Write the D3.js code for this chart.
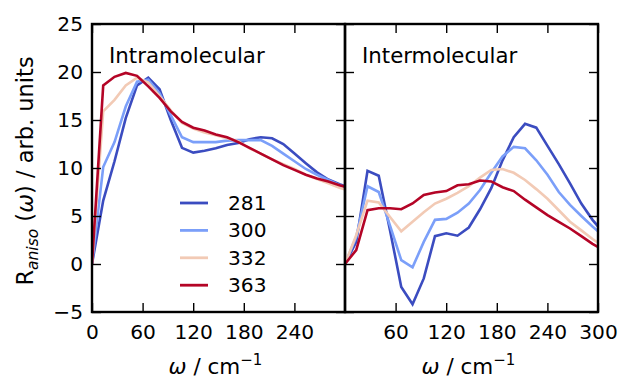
<!DOCTYPE html>
<html>
<head>
<meta charset="utf-8">
<script src="https://cdn.jsdelivr.net/npm/d3@7/dist/d3.min.js"></script>
<style>
html, body { margin: 0; padding: 0; background: #fff; }
svg { display: block; font-family: "DejaVu Sans", sans-serif; }
</style>
</head>
<body>
<svg id="chart" width="621" height="379"></svg>
<script>
// ---- data ----
const omega = [0, 13.3, 26.7, 40.0, 53.4, 66.7, 80.1, 93.4, 106.7, 120.1, 133.4, 146.8,
  160.1, 173.4, 186.8, 200.1, 213.5, 226.8, 240.1, 253.5, 266.8, 280.2, 293.5, 306.9];

const temps = ["281", "300", "332", "363"];

const intra281 = [0, 6.6, 10.7, 15.2, 18.6, 19.4, 18.2, 15.0, 12.1, 11.6, 11.8, 12.05,
  12.4, 12.6, 13.0, 13.2, 13.1, 12.5, 11.5, 10.5, 9.55, 8.8, 8.3, 7.9];
const intra300 = [0, 10.1, 12.7, 16.4, 19.0, 19.2, 17.8, 15.5, 13.2, 12.7, 12.7, 12.7,
  12.85, 12.9, 12.9, 12.9, 12.3, 11.5, 10.7, 9.9, 9.3, 8.75, 8.2, 7.8];
const intra332 = [0, 15.9, 17.1, 18.6, 19.4, 18.9, 17.5, 16.0, 14.7, 14.1, 13.7, 13.4,
  13.1, 12.8, 12.05, 11.5, 10.9, 10.4, 9.9, 9.3, 8.85, 8.4, 7.95, 7.6];
const intra363 = [0, 18.6, 19.5, 19.9, 19.6, 18.5, 17.3, 15.9, 14.8, 14.2, 13.9, 13.5,
  13.2, 12.7, 12.1, 11.5, 10.9, 10.3, 9.8, 9.3, 8.9, 8.6, 8.2, 7.9];

const inter281 = [0, 2.3, 9.7, 9.2, 3.5, -2.4, -4.2, -1.5, 2.9, 3.2, 2.95, 3.8,
  5.7, 7.9, 10.8, 13.2, 14.6, 14.2, 12.3, 10.4, 8.4, 6.3, 4.6, 3.2];
const inter300 = [0, 2.8, 8.1, 7.5, 4.0, 0.4, -0.35, 2.3, 4.6, 4.7, 5.35, 6.3,
  7.7, 9.5, 11.2, 12.2, 12.05, 10.8, 9.3, 7.5, 6.15, 5.0, 3.9, 2.9];
const inter332 = [0, 3.0, 6.6, 6.4, 4.9, 3.4, 4.4, 5.4, 6.3, 6.8, 7.4, 8.1,
  9.0, 9.8, 9.9, 9.5, 8.75, 7.8, 6.8, 5.6, 4.4, 3.5, 2.6, 1.8];
const inter363 = [0, 1.45, 5.6, 5.8, 5.8, 5.7, 6.3, 7.2, 7.45, 7.6, 8.2, 8.3,
  8.7, 8.6, 8.0, 7.6, 6.7, 5.9, 5.1, 4.4, 3.7, 2.9, 2.1, 1.4];

const colors = ["#3b4cc0", "#7b9ff9", "#f2cab5", "#b40426"];

const yTicks = [-5, 0, 5, 10, 15, 20, 25];
const xTicksLeft = [0, 60, 120, 180, 240];
const xTicksRight = [60, 120, 180, 240, 300];
const panelTitles = ["Intramolecular", "Intermolecular"];

// ---- layout ----
const svg = d3.select("#chart");
const plotTop = 24, plotBottom = 312;
const panels = [
  { x0: 92, x1: 345, series: [intra281, intra300, intra332, intra363], ticks: xTicksLeft, title: panelTitles[0], yLabels: true },
  { x0: 345, x1: 598, series: [inter281, inter300, inter332, inter363], ticks: xTicksRight, title: panelTitles[1], yLabels: false }
];

const y = d3.scaleLinear().domain([-5, 25]).range([plotBottom, plotTop]);
const fs = 20.2;

panels.forEach((p, pi) => {
  const x = d3.scaleLinear().domain([0, 300]).range([p.x0, p.x1]);
  const clipId = "clip" + pi;
  svg.append("clipPath").attr("id", clipId)
    .append("rect").attr("x", p.x0).attr("y", plotTop).attr("width", p.x1 - p.x0).attr("height", plotBottom - plotTop);

  const g = svg.append("g");
  const line = d3.line().x((d, i) => x(omega[i])).y(d => y(d));
  p.series.forEach((s, si) => {
    g.append("path").datum(s)
      .attr("clip-path", `url(#${clipId})`)
      .attr("d", line)
      .attr("fill", "none")
      .attr("stroke", colors[si])
      .attr("stroke-width", 2.6)
      .attr("stroke-linejoin", "miter");
  });

  // axes with inward ticks
  const axB = d3.axisBottom(x).tickValues(p.ticks).tickSizeInner(-9).tickSizeOuter(0).tickPadding(12.5);
  const axT = d3.axisTop(x).tickValues(p.ticks).tickSizeInner(-9).tickSizeOuter(0).tickFormat("");
  const axL = d3.axisLeft(y).tickValues(yTicks).tickSizeInner(-9).tickSizeOuter(0).tickPadding(9)
    .tickFormat(p.yLabels ? (d => d < 0 ? "\u2212" + Math.abs(d) : d) : "");
  const axR = d3.axisRight(y).tickValues(yTicks).tickSizeInner(-9).tickSizeOuter(0).tickFormat("");

  const styleAxis = sel => {
    sel.select(".domain").remove();
    sel.selectAll(".tick line").attr("stroke", "#000").attr("stroke-width", 1.4);
    sel.selectAll(".tick text").attr("fill", "#000").attr("font-size", fs).attr("font-family", "DejaVu Sans");
  };
  svg.append("g").attr("transform", `translate(0,${plotBottom})`).call(axB).call(styleAxis);
  svg.append("g").attr("transform", `translate(0,${plotTop})`).call(axT).call(styleAxis);
  svg.append("g").attr("transform", `translate(${p.x0},0)`).call(axL).call(styleAxis);
  svg.append("g").attr("transform", `translate(${p.x1},0)`).call(axR).call(styleAxis);

  // frame
  svg.append("rect").attr("x", p.x0).attr("y", plotTop).attr("width", p.x1 - p.x0).attr("height", plotBottom - plotTop)
    .attr("fill", "none").attr("stroke", "#000").attr("stroke-width", 2.4);

  // title
  svg.append("text").attr("x", p.x0 + 17).attr("y", 63).attr("font-size", 21.3).attr("fill", "#000").text(p.title);

  // x label
  const xl = svg.append("text").attr("x", (p.x0 + p.x1) / 2 - 3).attr("y", 374)
    .attr("text-anchor", "middle").attr("font-size", 21.5).attr("fill", "#000");
  xl.append("tspan").attr("font-style", "italic").text("\u03c9");
  xl.append("tspan").text(" / cm");
  xl.append("tspan").attr("font-size", 15).attr("dy", -9).text("\u22121");
});

// y label
const yl = svg.append("text").attr("transform", "translate(33,171) rotate(-90)")
  .attr("text-anchor", "middle").attr("font-size", 22.5).attr("fill", "#000");
yl.append("tspan").text("R");
yl.append("tspan").attr("font-style", "italic").attr("font-size", 15.5).attr("dy", 5).text("aniso");
yl.append("tspan").attr("dy", -5).text(" (");
yl.append("tspan").attr("font-style", "italic").text("\u03c9");
yl.append("tspan").text(") / arb. units");

// legend
const legend = svg.append("g");
temps.forEach((t, i) => {
  const ly = 203 + i * 27.4;
  legend.append("line").attr("x1", 180).attr("x2", 208).attr("y1", ly).attr("y2", ly)
    .attr("stroke", colors[i]).attr("stroke-width", 2.8);
  legend.append("text").attr("x", 228).attr("y", ly + 7).attr("font-size", fs).attr("fill", "#000").text(t);
});
</script>
</body>
</html>
